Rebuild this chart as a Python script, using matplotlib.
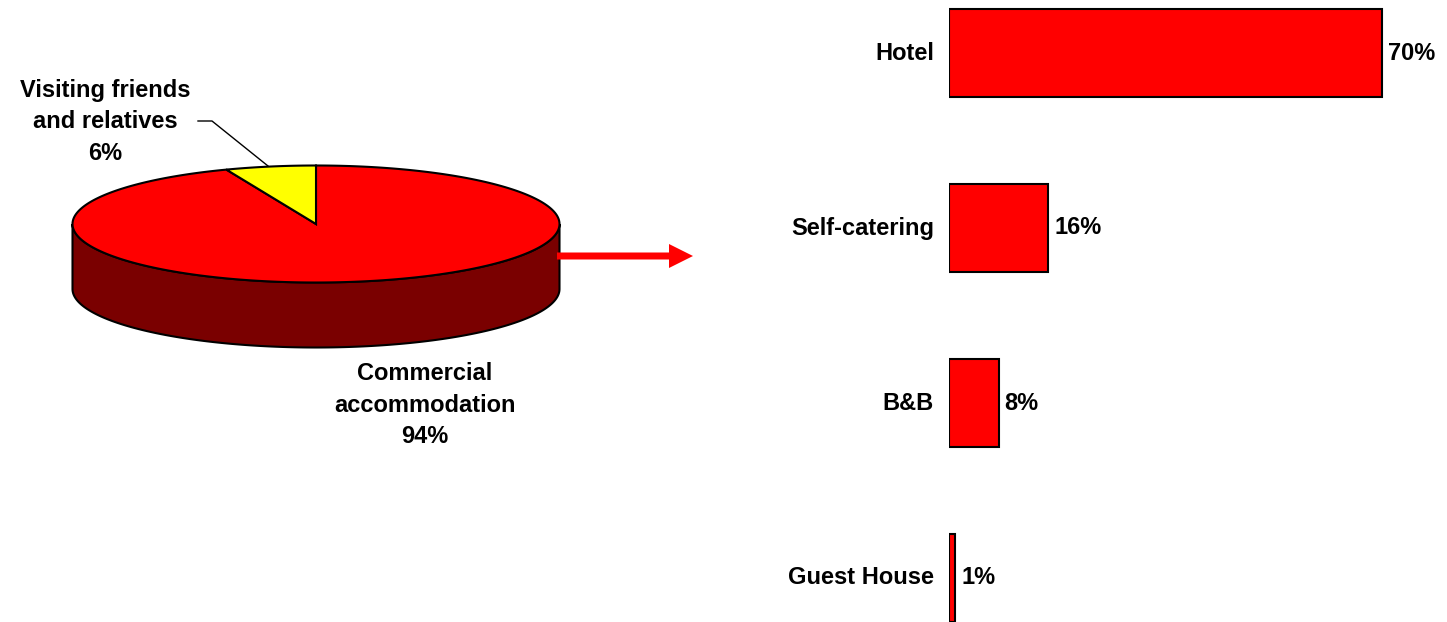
import numpy as np
import matplotlib
matplotlib.use("Agg")
import matplotlib.pyplot as plt
from matplotlib.patches import Polygon, FancyArrow

plt.rcParams['font.family'] = ['Liberation Sans', 'DejaVu Sans']
plt.rcParams['font.weight'] = 'bold'

# pie: where visitors stayed
pie_labels = ["Commercial\naccommodation", "Visiting friends\nand relatives"]
pie_values = [94, 6]
pie_colors = ["#ff0000", "#ffff00"]
side_color = "#7a0000"

# bars: breakdown of commercial accommodation
bar_labels = ["Hotel", "Self-catering", "B&B", "Guest House"]
bar_values = [70, 16, 8, 1]
bar_color = "#ff0000"

W, H = 1447, 622
fig = plt.figure(figsize=(W / 100, H / 100), dpi=100)

# pixel space axes for the 3d pie and arrow
ax = fig.add_axes([0, 0, 1, 1])
ax.set_xlim(0, W)
ax.set_ylim(H, 0)
ax.axis("off")

cx, cy = 316, 224
a, b = 243.5, 58.5
depth = 65


def pt(theta, dy=0):
    return cx + a * np.cos(theta), cy - b * np.sin(theta) + dy


# side (front half of the disc)
th = np.linspace(np.pi, 2 * np.pi, 200)
top = np.column_stack(pt(th))
bot = np.column_stack(pt(th[::-1], depth))
ax.add_patch(Polygon(np.vstack([top, bot]), closed=True, facecolor=side_color,
                     edgecolor="black", linewidth=1.5, zorder=1))

# top face, slices clockwise from 12 o'clock
start = np.pi / 2
for val, col in zip(pie_values, pie_colors):
    sweep = 2 * np.pi * val / sum(pie_values)
    th = np.linspace(start, start - sweep, 300)
    xs, ys = pt(th)
    verts = np.vstack([[cx, cy], np.column_stack([xs, ys])])
    ax.add_patch(Polygon(verts, closed=True, facecolor=col, edgecolor="black",
                         linewidth=1.5, zorder=2))
    start -= sweep

# labels
fs = 17
ax.text(425, 405, "{}\n{}%".format(pie_labels[0], pie_values[0]), ha="center",
        va="center", fontsize=fs, fontweight="bold", linespacing=1.45)
ax.text(105, 122, "{}\n{}%".format(pie_labels[1], pie_values[1]), ha="center",
        va="center", fontsize=fs, fontweight="bold", linespacing=1.45)
ax.plot([198, 212, 268], [121, 121, 166], color="black", linewidth=1, zorder=3)

ax.add_patch(FancyArrow(557, 256, 136, 0, width=7, head_width=24, head_length=24,
                        length_includes_head=True, color="#ff0000", linewidth=0))

# bar chart
px_per_pct = 6.19
x0 = 949
bx = fig.add_axes([x0 / W, 0, (W - x0) / W, 1])
bx.set_xlim(0, (W - x0) / px_per_pct)
spacing = 175
bx.set_ylim((H - 53) / spacing, -53 / spacing)
y = np.arange(len(bar_labels))
bx.barh(y, bar_values, height=88 / spacing, color=bar_color, edgecolor="black",
        linewidth=1.5)
for yi, lab, v in zip(y, bar_labels, bar_values):
    bx.annotate(lab, (0, yi), xytext=(-15, 0), textcoords="offset pixels",
                ha="right", va="center", fontsize=fs, fontweight="bold")
    bx.annotate("{}%".format(v), (v, yi), xytext=(6, 0), textcoords="offset pixels",
                ha="left", va="center", fontsize=fs, fontweight="bold")
bx.axis("off")

fig.savefig("out.png", dpi=100)
